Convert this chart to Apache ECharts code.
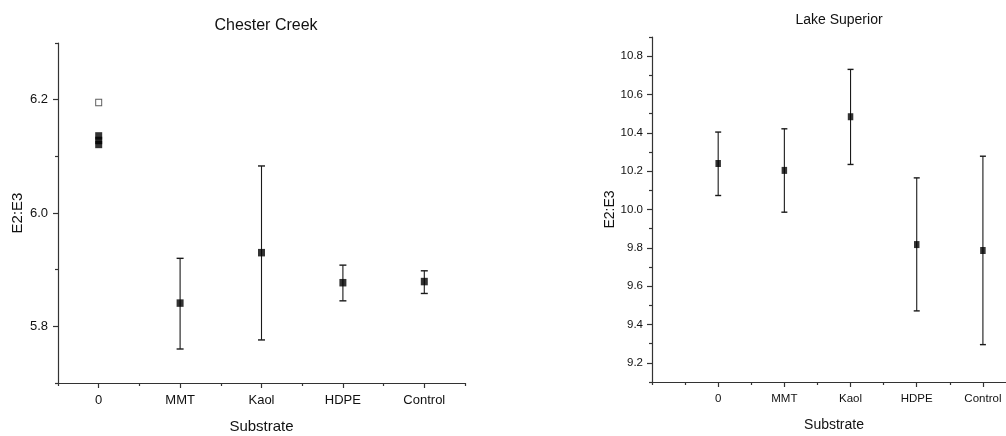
<!DOCTYPE html>
<html>
<head>
<meta charset="utf-8">
<script src="https://cdn.jsdelivr.net/npm/echarts@6/dist/echarts.min.js"></script>
<style>
  html, body { margin: 0; padding: 0; background: #fff; }
  #chart { width: 1006px; height: 436px; }
</style>
</head>
<body>
<div id="chart"></div>
<script>
// Substrate treatments shared by both panels (x index = position in this list)
const categories = ['0', 'MMT', 'Kaol', 'HDPE', 'Control'];

// Chester Creek: untreated replicates at "0" plus one open-symbol value
const ccZeroReplicates = [6.136, 6.128, 6.121];
const ccZeroOpen = [6.195];
// Chester Creek: mean and error range for MMT, Kaol, HDPE, Control
const ccMean = [5.841, 5.930, 5.877, 5.879];
const ccLow  = [5.760, 5.776, 5.845, 5.858];
const ccHigh = [5.920, 6.083, 5.908, 5.898];

// Lake Superior: mean and error range for every substrate
const lsMean = [10.240, 10.204, 10.484, 9.817, 9.786];
const lsLow  = [10.073, 9.986, 10.235, 9.471, 9.295];
const lsHigh = [10.404, 10.421, 10.731, 10.165, 10.278];

// Axis ticks
const ccYTicks = [5.8, 6.0, 6.2];
const ccYMinor = [5.7, 5.9, 6.1, 6.3];
const lsYTicks = [9.2, 9.4, 9.6, 9.8, 10.0, 10.2, 10.4, 10.6, 10.8];
const lsYMinor = [9.1, 9.3, 9.5, 9.7, 9.9, 10.1, 10.3, 10.5, 10.7, 10.9];
const xTicks = [0, 1, 2, 3, 4];
const ccXMinor = [-0.5, 0.5, 1.5, 2.5, 3.5, 4.5];
const lsXMinor = [-1, -0.5, 0.5, 1.5, 2.5, 3.5, 4.5];

const FONT = '"Liberation Sans", Arial, Helvetica, sans-serif';
const AXIS_COLOR = '#333';
const TEXT_COLOR = '#111';

// Main axis: line, labels and name
function mainX(gridIndex, min, max, fontSize, nameSize) {
  return {
    type: 'value', gridIndex, min, max, position: 'bottom',
    name: 'Substrate', nameLocation: 'middle', nameGap: 36,
    nameTextStyle: { fontFamily: FONT, fontSize: nameSize, color: TEXT_COLOR },
    splitLine: { show: false },
    axisLine: { show: true, onZero: false, lineStyle: { color: AXIS_COLOR, width: 1.2 } },
    axisTick: { show: false },
    axisLabel: { show: true, margin: 11, customValues: xTicks,
                 formatter: v => categories[Math.round(v)] ?? '',
                 fontFamily: FONT, fontSize, color: TEXT_COLOR }
  };
}
// Tick-only overlay axis
function tickX(gridIndex, min, max, ticks, len) {
  return {
    type: 'value', gridIndex, min, max, position: 'bottom',
    splitLine: { show: false },
    axisLine: { show: false, onZero: false },
    axisTick: { show: true, inside: false, length: len, customValues: ticks,
                lineStyle: { color: AXIS_COLOR, width: 1.2 } },
    axisLabel: { show: false }
  };
}
function mainY(gridIndex, min, max, ticks, fontSize, nameSize, nameGap, margin) {
  return {
    type: 'value', gridIndex, min, max, position: 'left',
    name: 'E2:E3', nameLocation: 'middle', nameGap,
    nameTextStyle: { fontFamily: FONT, fontSize: nameSize, color: TEXT_COLOR },
    splitLine: { show: false },
    axisLine: { show: true, onZero: false, lineStyle: { color: AXIS_COLOR, width: 1.2 } },
    axisTick: { show: false },
    axisLabel: { show: true, margin, customValues: ticks,
                 formatter: v => v.toFixed(1),
                 fontFamily: FONT, fontSize, color: TEXT_COLOR }
  };
}
function tickY(gridIndex, min, max, ticks, len) {
  return {
    type: 'value', gridIndex, min, max, position: 'left',
    splitLine: { show: false },
    axisLine: { show: false, onZero: false },
    axisTick: { show: true, inside: false, length: len, customValues: ticks,
                lineStyle: { color: AXIS_COLOR, width: 1.2 } },
    axisLabel: { show: false }
  };
}

// Vertical error bar with end caps
function errorBar(capWidth) {
  return function (params, api) {
    const x = api.value(0);
    const lo = api.coord([x, api.value(1)]);
    const hi = api.coord([x, api.value(2)]);
    const h = capWidth / 2;
    const bar = { stroke: '#1a1a1a', lineWidth: 1.1 };
    const cap = { stroke: '#1a1a1a', lineWidth: 1.4 };
    return {
      type: 'group',
      children: [
        { type: 'line', shape: { x1: lo[0], y1: lo[1], x2: hi[0], y2: hi[1] }, style: bar },
        { type: 'line', shape: { x1: hi[0] - h, y1: hi[1], x2: hi[0] + h, y2: hi[1] }, style: cap },
        { type: 'line', shape: { x1: lo[0] - h, y1: lo[1], x2: lo[0] + h, y2: lo[1] }, style: cap }
      ]
    };
  };
}

const chart = echarts.init(document.getElementById('chart'), null, { renderer: 'canvas' });

chart.setOption({
  animation: false,
  backgroundColor: '#fff',
  title: [
    { text: 'Chester Creek', left: 261, top: 13, textAlign: 'center',
      textStyle: { fontFamily: FONT, fontSize: 16, fontWeight: 'normal', color: TEXT_COLOR } },
    { text: 'Lake Superior', left: 834, top: 8, textAlign: 'center',
      textStyle: { fontFamily: FONT, fontSize: 14, fontWeight: 'normal', color: TEXT_COLOR } }
  ],
  grid: [
    { left: 58, right: 541, top: 43, bottom: 53, outerBoundsMode: 'none', containLabel: false },
    { left: 652, right: -10, top: 37, bottom: 54, outerBoundsMode: 'none', containLabel: false }
  ],
  xAxis: [
    mainX(0, -0.5, 4.5, 13, 15),
    tickX(0, -0.5, 4.5, xTicks, 5),
    tickX(0, -0.5, 4.5, ccXMinor, 3),
    mainX(1, -1, 4.5, 11.5, 14),
    tickX(1, -1, 4.5, xTicks, 5),
    tickX(1, -1, 4.5, lsXMinor, 3)
  ],
  yAxis: [
    mainY(0, 5.7, 6.3, ccYTicks, 13, 15, 33, 10),
    tickY(0, 5.7, 6.3, ccYTicks, 5),
    tickY(0, 5.7, 6.3, ccYMinor, 3),
    mainY(1, 9.1, 10.9, lsYTicks, 11.5, 14, 29, 9),
    tickY(1, 9.1, 10.9, lsYTicks, 5),
    tickY(1, 9.1, 10.9, lsYMinor, 3)
  ],
  series: [
    {
      type: 'custom', xAxisIndex: 0, yAxisIndex: 0, z: 2,
      renderItem: errorBar(7),
      encode: { x: 0, y: [1, 2] },
      data: ccMean.map((m, i) => [i + 1, ccLow[i], ccHigh[i]])
    },
    {
      type: 'scatter', xAxisIndex: 0, yAxisIndex: 0, z: 3,
      symbol: 'rect', symbolSize: [7, 7.5],
      itemStyle: { color: '#000' },
      data: ccMean.map((m, i) => [i + 1, m]).concat(ccZeroReplicates.map(v => [0, v]))
    },
    {
      type: 'scatter', xAxisIndex: 0, yAxisIndex: 0, z: 3,
      symbol: 'rect', symbolSize: [6, 6.5],
      itemStyle: { color: '#fff', borderColor: '#333', borderWidth: 1 },
      data: ccZeroOpen.map(v => [0, v])
    },
    {
      type: 'custom', xAxisIndex: 3, yAxisIndex: 3, z: 2,
      renderItem: errorBar(6),
      encode: { x: 0, y: [1, 2] },
      data: lsMean.map((m, i) => [i, lsLow[i], lsHigh[i]])
    },
    {
      type: 'scatter', xAxisIndex: 3, yAxisIndex: 3, z: 3,
      symbol: 'rect', symbolSize: [5.5, 7],
      itemStyle: { color: '#000' },
      data: lsMean.map((m, i) => [i, m])
    }
  ]
});
</script>
</body>
</html>
